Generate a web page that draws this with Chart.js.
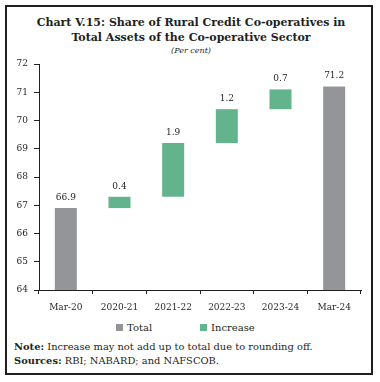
<!DOCTYPE html>
<html>
<head>
<meta charset="utf-8">
<script src="https://cdn.jsdelivr.net/npm/chart.js@4/dist/chart.umd.min.js"></script>
<style>
  body { margin: 0; width: 380px; height: 382px; background: #fff; position: relative; font-family: "DejaVu Serif", serif; color: #231f20; overflow: hidden; }
  #frame { position: absolute; left: 5px; top: 5px; width: 364px; height: 366px; border: 2px solid #231f20; }
  .title { position: absolute; left: 0; width: 382px; text-align: center; font-weight: bold; font-size: 11px; line-height: 14px; }
  #sub { position: absolute; left: 0; width: 382px; text-align: center; font-style: italic; font-size: 8px; top: 46px; }
  #chartWrap { position: absolute; left: 0; top: 0; width: 380px; height: 315px; }
  .leg { position: absolute; top: 322px; font-size: 10px; line-height: 12px; }
  .leg i { display: inline-block; width: 7px; height: 7px; margin-right: 4px; vertical-align: 0px; }
  .foot { position: absolute; left: 14px; font-size: 9.9px; white-space: nowrap; }
</style>
</head>
<body>
<div id="frame"></div>
<div class="title" style="top:16px">Chart V.15: Share of Rural Credit Co-operatives in</div>
<div class="title" style="top:31px">Total Assets of the Co-operative Sector</div>
<div id="sub">(Per cent)</div>
<div id="chartWrap"><canvas id="waterfall"></canvas></div>
<div class="leg" style="left:116px"><i style="background:#939598"></i>Total</div>
<div class="leg" style="left:200px"><i style="background:#63b38c"></i>Increase</div>
<div class="foot" style="top:341px"><b>Note:</b> Increase may not add up to total due to rounding off.</div>
<div class="foot" style="top:355px"><b>Sources:</b> RBI; NABARD; and NAFSCOB.</div>

<script>
const categories = ['Mar-20', '2020-21', '2021-22', '2022-23', '2023-24', 'Mar-24'];
const totalValues = [66.9, null, null, null, null, 71.2];
const increaseValues = [null, 0.4, 1.9, 1.2, 0.7, null];
const increaseFrom = [null, 66.9, 67.3, 69.2, 70.4, null];
const increaseTo = [null, 67.3, 69.2, 70.4, 71.1, null];
const yTicks = [64, 65, 66, 67, 68, 69, 70, 71, 72];

const GREY = '#939598';
const GREEN = '#63b38c';
const INK = '#231f20';

// value labels above each bar
const valueLabels = {
    id: 'valueLabels',
    afterDatasetsDraw(chart) {
        const ctx = chart.ctx;
        ctx.save();
        ctx.font = '9px "DejaVu Serif"';
        ctx.fillStyle = INK;
        ctx.textAlign = 'center';
        ctx.textBaseline = 'bottom';
        chart.data.datasets.forEach((ds, i) => {
            const meta = chart.getDatasetMeta(i);
            meta.data.forEach((bar, j) => {
                const v = ds.labelValues[j];
                if (v == null) return;
                ctx.fillText(v.toFixed(1), bar.x, bar.y - 6);
            });
        });
        ctx.restore();
    }
};

const barCtx = document.getElementById('waterfall').getContext('2d');
new Chart(barCtx, {
    type: 'bar',
    data: {
        labels: categories,
        datasets: [{
            label: 'Total',
            data: totalValues,
            labelValues: totalValues,
            backgroundColor: GREY,
            grouped: false,
            categoryPercentage: 1,
            barPercentage: 0.41
        }, {
            label: 'Increase',
            data: increaseFrom.map((f, i) => f == null ? null : [f, increaseTo[i]]),
            labelValues: increaseValues,
            backgroundColor: GREEN,
            grouped: false,
            categoryPercentage: 1,
            barPercentage: 0.41
        }]
    },
    options: {
        responsive: true,
        maintainAspectRatio: false,
        animation: false,
        layout: { padding: { top: 64, right: 19, left: 0, bottom: 0 } },
        scales: {
            x: {
                grid: { display: true, drawOnChartArea: false, offset: true, tickLength: 4, color: INK },
                border: { color: INK, width: 1 },
                ticks: { color: INK, font: { family: 'DejaVu Serif', size: 9 }, padding: 8, maxRotation: 0 },
                afterFit: s => { s.height = 25; }
            },
            y: {
                min: 64,
                max: 72,
                afterBuildTicks: s => { s.ticks = yTicks.map(v => ({ value: v })); },
                grid: { display: true, drawOnChartArea: false, tickLength: 5, color: INK },
                border: { color: INK, width: 1 },
                ticks: { color: INK, font: { family: 'DejaVu Serif', size: 9 }, padding: 6 },
                afterFit: s => { s.width = 39; }
            }
        },
        plugins: {
            legend: { display: false },
            tooltip: { enabled: false }
        }
    },
    plugins: [valueLabels]
});
</script>
</body>
</html>
